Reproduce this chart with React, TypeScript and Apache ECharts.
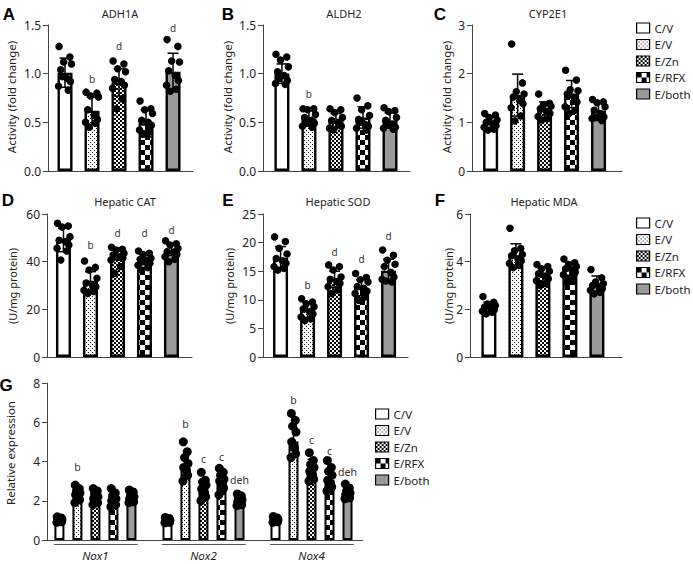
import React, { useEffect, useRef } from 'react';
import * as echarts from 'echarts';

const groups = ['C/V', 'E/V', 'E/Zn', 'E/RFX', 'E/both'];

// A: ADH1A
const adh1aMean = [1.01, 0.62, 0.91, 0.49, 1.02];
const adh1aSd = [0.15, 0.14, 0.14, 0.14, 0.19];
const adh1aPts = [
  [1.28, 1.17, 1.12, 1.10, 1.04, 0.95, 0.92, 0.87, 0.83, 0.97],
  [0.81, 0.80, 0.77, 0.76, 0.63, 0.57, 0.53, 0.50, 0.49, 0.45],
  [1.13, 1.10, 1.05, 1.02, 0.94, 0.92, 0.88, 0.85, 0.74, 0.64],
  [0.72, 0.64, 0.63, 0.59, 0.52, 0.50, 0.47, 0.42, 0.40, 0.38],
  [1.35, 1.28, 1.13, 1.12, 1.03, 0.98, 0.93, 0.88, 0.84, 0.82],
];
const adh1aLetters = ['', 'b', 'd', '', 'd'];
const adh1aLetterY = [0, 0.95, 1.28, 0, 1.47];

// B: ALDH2
const aldh2Mean = [1.00, 0.54, 0.52, 0.55, 0.52];
const aldh2Sd = [0.10, 0.08, 0.07, 0.11, 0.08];
const aldh2Pts = [
  [1.20, 1.17, 1.14, 1.07, 1.02, 0.98, 0.93, 0.90, 0.89, 0.95],
  [0.64, 0.64, 0.63, 0.58, 0.55, 0.52, 0.49, 0.46, 0.45, 0.50],
  [0.64, 0.63, 0.60, 0.55, 0.52, 0.50, 0.46, 0.44, 0.47, 0.42],
  [0.75, 0.67, 0.63, 0.57, 0.53, 0.48, 0.46, 0.44, 0.42, 0.50],
  [0.65, 0.62, 0.61, 0.55, 0.52, 0.48, 0.45, 0.44, 0.43, 0.47],
];
const aldh2Letters = ['', 'b', '', '', ''];
const aldh2LetterY = [0, 0.79, 0, 0, 0];

// C: CYP2E1
const cyp2e1Mean = [0.99, 1.56, 1.25, 1.58, 1.24];
const cyp2e1Sd = [0.12, 0.43, 0.17, 0.28, 0.20];
const cyp2e1Pts = [
  [1.18, 1.15, 1.10, 1.05, 1.00, 0.97, 0.93, 0.90, 0.86, 0.84],
  [2.61, 1.81, 1.63, 1.58, 1.52, 1.45, 1.38, 1.30, 1.13, 1.03],
  [1.58, 1.39, 1.35, 1.33, 1.28, 1.22, 1.18, 1.12, 1.08, 1.05],
  [2.07, 1.87, 1.67, 1.65, 1.58, 1.52, 1.42, 1.32, 1.25, 1.18],
  [1.47, 1.42, 1.40, 1.32, 1.25, 1.18, 1.11, 1.08, 1.04, 1.10],
];
const cyp2e1Letters = ['', '', '', '', ''];
const cyp2e1LetterY = [0, 0, 0, 0, 0];

// D: Hepatic CAT
const catMean = [49.1, 32.0, 43.2, 41.1, 44.9];
const catSd = [4.9, 3.8, 2.5, 2.4, 2.3];
const catPts = [
  [56.1, 55.0, 54.5, 50.5, 49.0, 48.4, 47.0, 45.6, 44.5, 40.7],
  [40.3, 37.6, 36.5, 33.0, 31.0, 30.0, 29.5, 28.0, 27.5, 26.6],
  [46.0, 45.2, 44.9, 43.5, 42.8, 42.0, 41.5, 40.7, 38.0, 35.1],
  [44.5, 43.5, 43.0, 41.4, 41.0, 40.5, 39.3, 38.5, 37.5, 36.5],
  [48.8, 47.5, 47.0, 45.5, 44.2, 44.0, 43.0, 42.1, 41.0, 40.0],
];
const catLetters = ['', 'b', 'd', 'd', 'd'];
const catLetterY = [0, 47.0, 52.2, 51.9, 53.3];

// E: Hepatic SOD
const sodMean = [17.3, 8.2, 13.6, 12.1, 15.1];
const sodSd = [2.0, 1.3, 1.4, 1.4, 2.0];
const sodPts = [
  [21.0, 20.2, 19.0, 18.0, 17.2, 16.8, 16.4, 15.8, 15.5, 15.2],
  [10.2, 9.6, 9.3, 8.8, 8.4, 7.9, 7.5, 7.0, 6.7, 6.4],
  [16.1, 15.8, 15.2, 14.0, 13.6, 13.2, 12.9, 12.3, 11.7, 11.1],
  [14.6, 13.9, 13.5, 13.1, 12.3, 12.0, 11.5, 11.1, 10.5, 9.9],
  [18.7, 17.8, 16.9, 16.2, 15.8, 14.8, 14.0, 13.6, 13.1, 13.3],
];
const sodLetters = ['', 'b', 'd', 'd', 'd'];
const sodLetterY = [0, 12.6, 18.4, 17.1, 21.1];

// F: Hepatic MDA
const mdaMean = [2.08, 4.27, 3.45, 3.70, 3.02];
const mdaSd = [0.22, 0.48, 0.28, 0.27, 0.38];
const mdaPts = [
  [2.54, 2.30, 2.22, 2.16, 2.10, 2.02, 1.98, 1.92, 1.88, 1.81],
  [5.40, 4.55, 4.46, 4.30, 4.25, 4.10, 4.04, 3.92, 3.84, 3.75],
  [3.88, 3.80, 3.70, 3.60, 3.49, 3.40, 3.28, 3.20, 3.07, 3.00],
  [4.11, 3.95, 3.88, 3.80, 3.70, 3.65, 3.56, 3.45, 3.28, 3.14],
  [3.67, 3.32, 3.15, 3.07, 3.00, 2.95, 2.86, 2.80, 2.72, 2.65],
];
const mdaLetters = ['', '', '', '', ''];
const mdaLetterY = [0, 0, 0, 0, 0];

// G: relative expression
const genes = ['Nox1', 'Nox2', 'Nox4'];
const noxMean = [
  [1.02, 2.30, 2.09, 2.04, 2.12],
  [1.00, 3.78, 2.63, 2.89, 2.00],
  [1.02, 5.02, 3.66, 3.06, 2.30],
];
const noxSd = [
  [0.10, 0.25, 0.25, 0.30, 0.20],
  [0.10, 0.50, 0.35, 0.40, 0.25],
  [0.10, 0.70, 0.45, 0.45, 0.30],
];
const noxPts = [
  [
    [1.18, 1.12, 1.08, 1.05, 1.00, 0.97, 0.93, 0.90],
    [2.80, 2.62, 2.50, 2.40, 2.30, 2.20, 2.05, 1.90],
    [2.62, 2.50, 2.35, 2.20, 2.10, 2.00, 1.90, 1.80],
    [2.62, 2.40, 2.25, 2.10, 2.00, 1.90, 1.80, 1.70],
    [2.55, 2.45, 2.30, 2.20, 2.10, 2.00, 1.95, 1.90],
  ],
  [
    [1.15, 1.10, 1.05, 1.00, 0.97, 0.93, 0.90, 0.88],
    [5.00, 4.50, 4.20, 3.90, 3.70, 3.50, 3.30, 3.00],
    [3.45, 3.05, 2.95, 2.80, 2.60, 2.40, 2.20, 2.00],
    [3.65, 3.45, 3.30, 3.10, 3.00, 2.80, 2.65, 2.30],
    [2.35, 2.25, 2.15, 2.05, 1.95, 1.85, 1.80, 1.75],
  ],
  [
    [1.20, 1.12, 1.08, 1.03, 1.00, 0.97, 0.93, 0.90],
    [6.45, 6.10, 5.80, 5.50, 5.00, 4.70, 4.40, 4.20],
    [4.45, 4.05, 3.85, 3.70, 3.50, 3.30, 3.10, 3.00],
    [4.05, 3.70, 3.50, 3.30, 3.05, 2.85, 2.70, 2.50],
    [2.85, 2.65, 2.50, 2.40, 2.30, 2.20, 2.15, 2.10],
  ],
];
const noxLetters = [
  ['', 'b', '', '', ''],
  ['', 'b', 'c', 'c', 'deh'],
  ['', 'b', 'c', 'c', 'deh'],
];
const noxLetterY = [
  [0, 3.71, 0, 0, 0],
  [0, 5.9, 4.13, 4.25, 3.06],
  [0, 7.14, 5.1, 4.56, 3.48],
];

// fixed horizontal scatter offsets (in bar-slot units)
const jitterBar = [-0.22, 0.18, -0.05, 0.24, -0.16, 0.08, 0.2, -0.24, 0.12, -0.1];
const jitterNox = [-0.12, 0.1, -0.05, 0.14, -0.1, 0.06, 0.12, -0.14];

const FONT = 'Noto Sans';

function makeTile(w: number, h: number, draw: (ctx: CanvasRenderingContext2D) => void) {
  const c = document.createElement('canvas');
  c.width = w;
  c.height = h;
  const ctx = c.getContext('2d')!;
  ctx.fillStyle = '#ffffff';
  ctx.fillRect(0, 0, w, h);
  ctx.fillStyle = '#000000';
  draw(ctx);
  return { image: c.toDataURL(), imageWidth: w, imageHeight: h, repeat: 'repeat' };
}

function errRender(cap: number) {
  return (params: any, api: any) => {
    const x = api.value(0);
    const m = api.value(1);
    const s = api.value(2);
    const top = api.coord([x, m + s]);
    const bot = api.coord([x, m - s]);
    const st = { stroke: '#000', lineWidth: 1.5 };
    return {
      type: 'group',
      children: [
        { type: 'line', shape: { x1: top[0], y1: top[1], x2: bot[0], y2: bot[1] }, style: st },
        { type: 'line', shape: { x1: top[0] - cap, y1: top[1], x2: top[0] + cap, y2: top[1] }, style: st },
        { type: 'line', shape: { x1: bot[0] - cap, y1: bot[1], x2: bot[0] + cap, y2: bot[1] }, style: st },
      ],
    };
  };
}

function letterRender(texts: string[], size: number) {
  return (params: any, api: any) => {
    const p = api.coord([api.value(0), api.value(1)]);
    return {
      type: 'text',
      x: p[0],
      y: p[1],
      style: {
        text: texts[params.dataIndex],
        fill: '#333',
        font: `${size}px ${FONT}`,
        align: 'center',
        verticalAlign: 'middle',
        textAlign: 'center',
        textVerticalAlign: 'middle',
      },
    };
  };
}

export default function App() {
  const ref = useRef<HTMLDivElement>(null);

  useEffect(() => {
    if (!ref.current) return;
    const chart = echarts.init(ref.current, null, { renderer: 'svg' });

    const fills: any[] = [
      '#ffffff',
      makeTile(4, 4, (ctx) => {
        ctx.fillRect(0, 0, 1, 1);
        ctx.fillRect(2, 2, 1, 1);
      }),
      makeTile(4, 4, (ctx) => {
        ctx.fillRect(0, 0, 2, 2);
        ctx.fillRect(2, 2, 2, 2);
      }),
      makeTile(10, 10, (ctx) => {
        ctx.fillRect(0, 0, 5, 5);
        ctx.fillRect(5, 5, 5, 5);
      }),
      '#9a9a9a',
    ];

    const panels = [
      { mean: adh1aMean, sd: adh1aSd, pts: adh1aPts, letters: adh1aLetters, letterY: adh1aLetterY, yMax: 1.5, yStep: 0.5, dec: 1,
        grid: { left: 48, top: 25, width: 145, height: 146 }, xMin: -0.63, xMax: 4.74 },
      { mean: aldh2Mean, sd: aldh2Sd, pts: aldh2Pts, letters: aldh2Letters, letterY: aldh2LetterY, yMax: 1.5, yStep: 0.5, dec: 1,
        grid: { left: 263, top: 25, width: 147, height: 146 }, xMin: -0.70, xMax: 4.74 },
      { mean: cyp2e1Mean, sd: cyp2e1Sd, pts: cyp2e1Pts, letters: cyp2e1Letters, letterY: cyp2e1LetterY, yMax: 3, yStep: 1, dec: 0,
        grid: { left: 472, top: 25, width: 150, height: 146 }, xMin: -0.69, xMax: 4.87 },
      { mean: catMean, sd: catSd, pts: catPts, letters: catLetters, letterY: catLetterY, yMax: 60, yStep: 20, dec: 0,
        grid: { left: 47, top: 214, width: 145, height: 143 }, xMin: -0.61, xMax: 4.76 },
      { mean: sodMean, sd: sodSd, pts: sodPts, letters: sodLetters, letterY: sodLetterY, yMax: 25, yStep: 5, dec: 0,
        grid: { left: 263, top: 214, width: 145, height: 143 }, xMin: -0.65, xMax: 4.72 },
      { mean: mdaMean, sd: mdaSd, pts: mdaPts, letters: mdaLetters, letterY: mdaLetterY, yMax: 6, yStep: 2, dec: 0,
        grid: { left: 470, top: 214, width: 152, height: 143 }, xMin: -0.70, xMax: 4.93 },
    ];

    const grids: any[] = [];
    const xAxes: any[] = [];
    const yAxes: any[] = [];
    const series: any[] = [];

    const axisColor = '#444';
    const yAxisFor = (i: number, max: number, step: number, dec: number) => ({
      type: 'value', gridIndex: i, min: 0, max, interval: step,
      axisLine: { show: true, onZero: false, lineStyle: { color: axisColor, width: 1 } },
      axisTick: { show: true, length: 5, lineStyle: { color: axisColor, width: 1 } },
      axisLabel: { fontSize: 12, fontFamily: FONT, color: '#222', margin: 7, formatter: (v: number) => v.toFixed(dec) },
      splitLine: { show: false },
    });
    const xAxisFor = (i: number, min: number, max: number) => ({
      type: 'value', gridIndex: i, min, max,
      axisLine: { show: true, onZero: false, lineStyle: { color: axisColor, width: 1 } },
      axisTick: { show: false }, axisLabel: { show: false }, splitLine: { show: false },
    });

    panels.forEach((p, i) => {
      grids.push({ ...p.grid });
      xAxes.push(xAxisFor(i, p.xMin, p.xMax));
      yAxes.push(yAxisFor(i, p.yMax, p.yStep, p.dec));
      groups.forEach((g, gi) => {
        series.push({
          type: 'bar', name: g, xAxisIndex: i, yAxisIndex: i, barWidth: 15, barGap: '-100%',
          data: [[gi, p.mean[gi]]],
          itemStyle: { color: fills[gi], borderColor: '#000', borderWidth: 2.4 },
          emphasis: { disabled: true }, z: 2,
        });
      });
      series.push({
        type: 'custom', name: 'err' + i, xAxisIndex: i, yAxisIndex: i,
        data: p.mean.map((m, gi) => [gi, m, p.sd[gi]]),
        renderItem: errRender(5.5), z: 3, silent: true,
      });
      series.push({
        type: 'scatter', name: 'pts' + i, xAxisIndex: i, yAxisIndex: i, symbolSize: 7.5,
        itemStyle: { color: '#000', opacity: 1 },
        data: p.pts.flatMap((arr, gi) => arr.map((v, k) => [gi + jitterBar[k], v])),
        z: 4, silent: true,
      });
      const lt: string[] = [];
      const ld: number[][] = [];
      p.letters.forEach((t, gi) => {
        if (t) {
          lt.push(t);
          ld.push([gi, p.letterY[gi]]);
        }
      });
      if (ld.length) {
        series.push({
          type: 'custom', name: 'let' + i, xAxisIndex: i, yAxisIndex: i,
          data: ld, renderItem: letterRender(lt, 10), z: 5, silent: true,
        });
      }
    });

    // Panel G
    const gi6 = 6;
    grids.push({ left: 47, top: 383, width: 316, height: 157 });
    xAxes.push(xAxisFor(gi6, -0.69, 16.86));
    yAxes.push(yAxisFor(gi6, 8, 2, 0));
    groups.forEach((g, gi) => {
      series.push({
        type: 'bar', name: g, xAxisIndex: gi6, yAxisIndex: gi6, barWidth: 10, barGap: '-100%',
        data: genes.map((_, k) => [6 * k + gi, noxMean[k][gi]]),
        itemStyle: { color: fills[gi], borderColor: '#000', borderWidth: 2 },
        emphasis: { disabled: true }, z: 2,
      });
    });
    const gErr: number[][] = [];
    const gPts: number[][] = [];
    const gLetT: string[] = [];
    const gLetD: number[][] = [];
    genes.forEach((_, k) => {
      groups.forEach((__, gi) => {
        const x = 6 * k + gi;
        gErr.push([x, noxMean[k][gi], noxSd[k][gi]]);
        noxPts[k][gi].forEach((v, j) => gPts.push([x + jitterNox[j], v]));
        if (noxLetters[k][gi]) {
          gLetT.push(noxLetters[k][gi]);
          gLetD.push([x, noxLetterY[k][gi]]);
        }
      });
    });
    series.push({ type: 'custom', name: 'errG', xAxisIndex: gi6, yAxisIndex: gi6, data: gErr, renderItem: errRender(4), z: 3, silent: true });
    series.push({ type: 'scatter', name: 'ptsG', xAxisIndex: gi6, yAxisIndex: gi6, symbolSize: 9, itemStyle: { color: '#000', opacity: 1 }, data: gPts, z: 4, silent: true });
    series.push({ type: 'custom', name: 'letG', xAxisIndex: gi6, yAxisIndex: gi6, data: gLetD, renderItem: letterRender(gLetT, 10.5), z: 5, silent: true });
    series.push({
      type: 'custom', name: 'geneLabels', xAxisIndex: gi6, yAxisIndex: gi6,
      data: genes.map((_, k) => [6 * k - 0.3, 6 * k + 4.35, 6 * k + 2]),
      renderItem: (params: any, api: any) => {
        const a = api.coord([api.value(0), 0]);
        const b = api.coord([api.value(1), 0]);
        const c = api.coord([api.value(2), 0]);
        return {
          type: 'group',
          children: [
            { type: 'line', shape: { x1: a[0], y1: a[1] + 4.5, x2: b[0], y2: b[1] + 4.5 }, style: { stroke: '#555', lineWidth: 1 } },
            {
              type: 'text', x: c[0], y: c[1] + 15.5,
              style: {
                text: genes[params.dataIndex], fill: '#222', font: `italic 11.5px ${FONT}`,
                align: 'center', verticalAlign: 'middle', textAlign: 'center', textVerticalAlign: 'middle',
              },
            },
          ],
        };
      },
      z: 5, silent: true,
    });

    const legendBase = {
      orient: 'vertical', icon: 'rect', itemWidth: 13, itemHeight: 10, itemGap: 4.5,
      selectedMode: false, data: groups, padding: 0,
      textStyle: { fontSize: 11.5, fontFamily: FONT, color: '#222' },
      itemStyle: { borderColor: '#000', borderWidth: 1.2 },
    };

    const txt = (text: string, x: number, y: number, font: string, rot = 0, fill = '#222') => ({
      type: 'text', x, y, rotation: rot,
      style: { text, font, fill, align: 'center', verticalAlign: 'middle', textAlign: 'center', textVerticalAlign: 'middle' },
    });
    const letterFont = 'bold 17px Liberation Sans';
    const titleFont = `11px ${FONT}`;
    const ylab1 = `11.5px ${FONT}`;
    const ylab2 = `11px ${FONT}`;

    chart.setOption({
      animation: false,
      backgroundColor: '#ffffff',
      grid: grids,
      xAxis: xAxes,
      yAxis: yAxes,
      series,
      legend: [
        { ...legendBase, left: 636, top: 22 },
        { ...legendBase, left: 636, top: 217 },
        { ...legendBase, left: 375, top: 408 },
      ],
      graphic: [
        txt('A', 9, 14, letterFont, 0, '#000'),
        txt('B', 228, 14, letterFont, 0, '#000'),
        txt('C', 440, 14, letterFont, 0, '#000'),
        txt('D', 8, 200, letterFont, 0, '#000'),
        txt('E', 228, 200, letterFont, 0, '#000'),
        txt('F', 440, 200, letterFont, 0, '#000'),
        txt('G', 6, 385, letterFont, 0, '#000'),
        txt('ADH1A', 120, 13, titleFont),
        txt('ALDH2', 344, 13, titleFont),
        txt('CYP2E1', 548, 13, titleFont),
        txt('Hepatic CAT', 125, 201, titleFont),
        txt('Hepatic SOD', 338, 201, titleFont),
        txt('Hepatic MDA', 544, 201, titleFont),
        txt('Activity (fold change)', 11, 97, ylab1, Math.PI / 2),
        txt('Activity (fold change)', 227, 97, ylab1, Math.PI / 2),
        txt('Activity (fold change)', 446, 97, ylab1, Math.PI / 2),
        txt('(U/mg protein)', 12, 286, ylab2, Math.PI / 2),
        txt('(U/mg protein)', 229, 286, ylab2, Math.PI / 2),
        txt('(U/mg protein)', 448, 286, ylab2, Math.PI / 2),
        txt('Relative expression', 10, 453, ylab1, Math.PI / 2),
      ],
    });

    return () => chart.dispose();
  }, []);

  return <div ref={ref} style={{ position: 'fixed', left: 0, top: 0, width: 693, height: 564 }} />;
}
